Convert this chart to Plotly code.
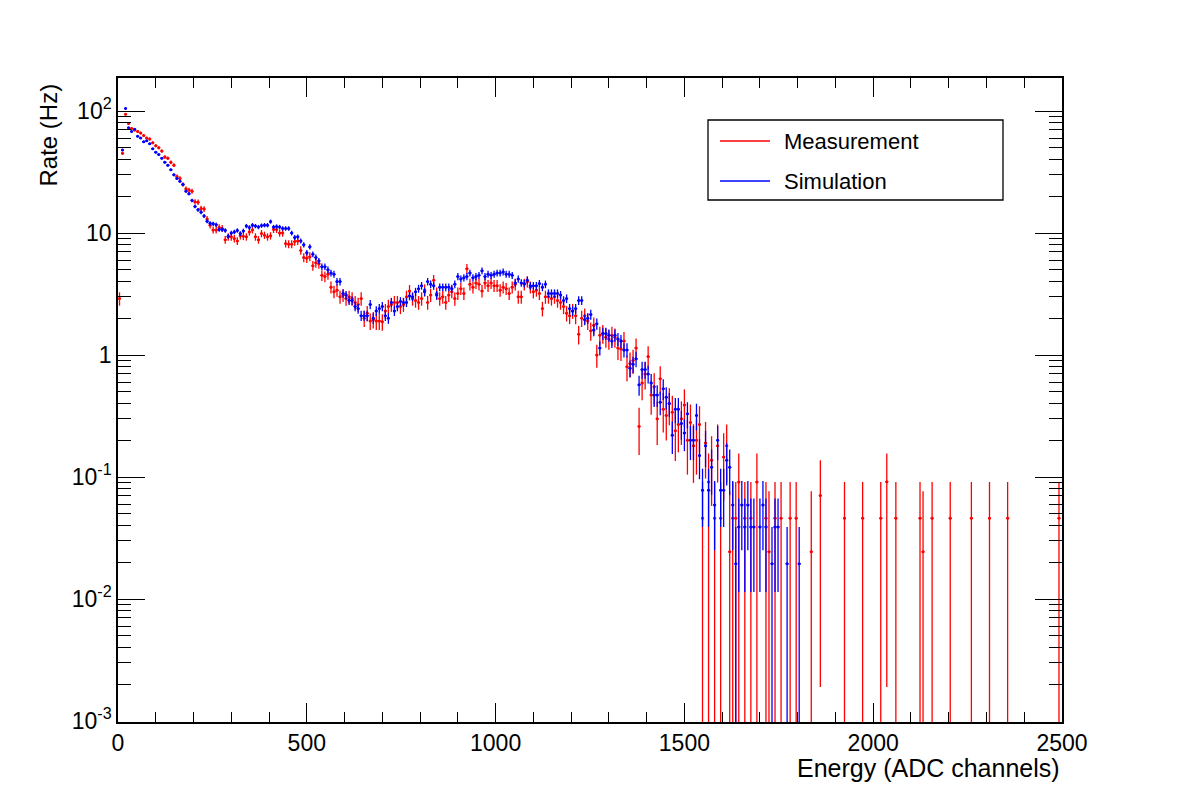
import math
import plotly.graph_objects as go

# ---------------- data ----------------
BIN_WIDTH = 8          # ADC channels per bin
FIRST_CENTER = 4       # centre of first bin

# Measurement rates (Hz) for consecutive bins starting at channel 4
meas_main = [
    2.9, 45, 94, 79, 72, 70, 68, 66, 63, 60, 59, 55, 52, 50, 47, 42, 41, 38, 36, 29,
    28, 25, 23, 22.5, 22, 18, 17.9, 15.9, 15.7, 13, 11.6, 10.6, 10.6, 11.1, 10.9, 8.8, 9.3, 9.3, 9.0, 8.6,
    9.5, 9.4, 9.3, 10.2, 10.6, 9.3, 8.8, 9.9, 9.6, 9.3, 9.5, 10.7, 10.7, 10.0, 10.0, 8.2, 8.1, 8.1, 8.5, 8.6,
    7.2, 6.3, 6.2, 6.4, 5.4, 5.7, 5.6, 4.5, 4.4, 4.6, 3.6, 3.3, 3.4, 3.0, 3.1, 2.9, 3.0, 2.9, 2.7, 2.6,
    2.9, 2.0, 2.2, 1.9, 1.95, 1.9, 1.9, 1.87, 2.3, 2.5, 2.6, 2.7, 2.7, 2.5, 2.6, 3.0, 3.35, 2.9, 2.8, 2.7,
    2.9, 3.4, 2.7, 3.1, 4.1, 3.2, 2.9, 3.0, 2.7, 3.1, 3.3, 2.9, 3.2, 3.5, 3.2, 5.1, 3.8, 3.6, 3.9, 3.8,
    3.35, 3.9, 3.7, 3.9, 3.7, 3.7, 3.4, 3.6, 3.5, 3.2, 3.6, 3.8, 3.0, 3.0, 3.8, 4.0, 3.6, 3.3, 3.4, 3.2,
    2.4, 3.0, 3.0, 2.9, 3.0, 2.8, 2.7, 2.5, 2.2, 2.1, 2.3, 2.1, 1.48, 2.0, 2.1, 1.9, 1.58, 1.75, 1.0, 1.45,
    1.5, 1.4, 1.35, 1.45, 1.4, 1.14, 1.12, 1.3, 0.8, 0.85, 0.9, 1.14, 0.26, 0.59, 0.7, 0.97, 0.47, 0.55, 0.3, 0.64,
    0.36, 0.32, 0.4, 0.34, 0.24, 0.27, 0.3, 0.39, 0.2, 0.28, 0.18, 0.2, 0.27,
]

# Simulation rates (Hz) for the same bins (first bin empty)
sim_main = [
    None, 48, 105, 73, 68, 71, 62, 60, 56, 57, 54, 49, 46, 44, 41, 38, 36, 33, 30, 28,
    26.5, 25, 22, 21, 18.5, 16.5, 15.5, 14.8, 13.8, 12.5, 12.0, 11.9, 11.7, 10.7, 10.7, 10.5, 9.4, 10.0, 10.2, 10.5,
    9.9, 10.4, 11.4, 11.1, 11.6, 11.4, 11.2, 11.5, 11.6, 11.6, 12.4, 11.2, 11.3, 11.2, 10.9, 10.9, 10.9, 10.0, 9.2, 9.3,
    8.6, 8.0, 6.9, 7.7, 6.7, 6.3, 5.9, 5.3, 5.3, 5.0, 4.7, 4.6, 4.0, 4.0, 3.2, 3.1, 2.8, 2.8, 2.5, 2.4,
    2.1, 2.1, 2.1, 2.6, 2.0, 2.3, 2.4, 2.5, 2.1, 2.0, 2.7, 2.3, 2.5, 2.75, 2.7, 2.7, 3.05, 3.0, 3.3, 3.5,
    3.7, 3.3, 4.0, 3.8, 3.7, 3.1, 3.6, 3.6, 3.6, 3.6, 3.5, 3.8, 4.4, 4.2, 4.3, 4.4, 4.7, 4.3, 4.4, 4.5,
    4.9, 4.4, 4.6, 4.5, 4.6, 4.7, 4.7, 4.8, 4.6, 4.6, 4.5, 3.9, 4.2, 3.9, 3.85, 4.1, 3.7, 3.7, 3.7, 3.85,
    3.6, 3.8, 3.2, 3.2, 3.2, 3.2, 3.1, 2.8, 2.9, 2.4, 2.3, 2.4, 2.8, 2.8, 1.95, 2.0, 2.15, 1.6, 1.8, 1.14,
    1.5, 1.5, 1.45, 1.3, 1.45, 1.35, 1.3, 1.1, 1.1, 0.78, 0.84, 0.93, 0.57, 0.76, 0.76, 0.7, 0.59, 0.47, 0.47, 0.41,
    0.53, 0.45, 0.4, 0.22, 0.36, 0.36, 0.275, 0.23, 0.33, 0.2, 0.2, 0.32, 0.15,
]

# Sparse high-energy tail (bin centres in ADC channels)
meas_tail_x = [1548, 1556, 1564, 1572, 1580, 1588, 1596, 1604, 1612, 1620, 1628, 1636, 1644, 1660,
               1676, 1692, 1716, 1724, 1740, 1756, 1780, 1796, 1836, 1860, 1924, 1972, 2020, 2036,
               2060, 2124, 2132, 2156, 2204, 2260, 2308, 2356, 2492]
meas_tail_y = [0.046, 0.19, 0.091, 0.137, 0.046, 0.18, 0.046, 0.146, 0.18, 0.0244, 0.046, 0.046, 0.091, 0.046,
               0.046, 0.091, 0.046, 0.0244, 0.046, 0.046, 0.046, 0.046, 0.0244, 0.0705, 0.046, 0.046, 0.046, 0.0915,
               0.046, 0.046, 0.0244, 0.046, 0.046, 0.046, 0.046, 0.046, 0.046]
meas_tail_err_up = [0.045, 0.093, 0.065, 0.079, 0.045, 0.09, 0.045, 0.082, 0.09, 0.052, 0.045, 0.045, 0.065, 0.045,
                    0.045, 0.065, 0.045, 0.052, 0.045, 0.045, 0.045, 0.045, 0.052, 0.067, 0.045, 0.045, 0.045, 0.0645,
                    0.045, 0.045, 0.052, 0.045, 0.045, 0.045, 0.045, 0.045, 0.045]
meas_tail_err_dn = [0.046, 0.093, 0.091, 0.079, 0.046, 0.09, 0.046, 0.082, 0.09, 0.0244, 0.046, 0.046, 0.091, 0.046,
                    0.046, 0.091, 0.046, 0.0244, 0.046, 0.046, 0.046, 0.046, 0.0244, 0.0686, 0.046, 0.046, 0.046, 0.0896,
                    0.046, 0.046, 0.0244, 0.046, 0.046, 0.046, 0.046, 0.046, 0.046]

sim_tail_x = [1548, 1556, 1564, 1572, 1580, 1588, 1596, 1604, 1612, 1620, 1628, 1636, 1644, 1652, 1660,
              1668, 1676, 1684, 1700, 1708, 1716, 1732, 1740, 1748, 1772, 1804]
sim_tail_y = [0.078, 0.18, 0.078, 0.12, 0.059, 0.2, 0.078, 0.078, 0.137, 0.12, 0.059, 0.0195, 0.039, 0.059, 0.039,
              0.059, 0.039, 0.039, 0.039, 0.059, 0.039, 0.0195, 0.039, 0.039, 0.0195, 0.0195]

MEAS_RATE_PER_COUNT = 0.0455   # Hz per recorded event (measurement)
SIM_RATE_PER_COUNT = 0.0195    # Hz per simulated event

# ---------------- assemble ----------------
meas_main_x = [FIRST_CENTER + BIN_WIDTH * i for i in range(len(meas_main))]
sim_main_x = [FIRST_CENTER + BIN_WIDTH * i for i in range(len(sim_main))]

def poisson_err(vals, unit):
    return [None if v is None else math.sqrt(v * unit) for v in vals]

meas_x = meas_main_x + meas_tail_x
meas_y = meas_main + meas_tail_y
meas_up = poisson_err(meas_main, MEAS_RATE_PER_COUNT) + meas_tail_err_up
meas_dn = poisson_err(meas_main, MEAS_RATE_PER_COUNT) + meas_tail_err_dn

sim_x = sim_main_x + sim_tail_x
sim_y = sim_main + sim_tail_y
sim_err = poisson_err(sim_y, SIM_RATE_PER_COUNT)

RED = "#ff0000"
BLUE = "#0000ff"
FONT = "Liberation Sans, Arial, Helvetica, sans-serif"

fig = go.Figure()
fig.add_trace(go.Scatter(
    x=meas_x, y=meas_y, mode="markers", name="Measurement",
    marker=dict(color=RED, size=3),
    error_y=dict(type="data", symmetric=False, array=meas_up, arrayminus=meas_dn,
                 color=RED, thickness=1.3, width=0),
    error_x=dict(type="constant", value=BIN_WIDTH / 2, color=RED, thickness=1.3, width=0),
    showlegend=False,
))
fig.add_trace(go.Scatter(
    x=sim_x, y=sim_y, mode="markers", name="Simulation",
    marker=dict(color=BLUE, size=3),
    error_y=dict(type="data", array=sim_err, color=BLUE, thickness=1.3, width=0),
    error_x=dict(type="constant", value=BIN_WIDTH / 2, color=BLUE, thickness=1.3, width=0),
    showlegend=False,
))

y_tick_vals = [0.001, 0.01, 0.1, 1, 10, 100]
y_tick_text = ["10<sup>-3</sup>", "10<sup>-2</sup>", "10<sup>-1</sup>", "1", "10", "10<sup>2</sup>"]

fig.update_xaxes(
    range=[0, 2500], showline=True, linecolor="black", linewidth=1.5, mirror="ticks",
    ticks="inside", ticklen=19, tickwidth=1.3, tickcolor="black", dtick=500, tick0=0,
    showgrid=False, zeroline=False,
    tickfont=dict(family=FONT, size=23, color="black"),
    minor=dict(ticks="inside", ticklen=10, dtick=100, tickcolor="black", tickwidth=1.3, showgrid=False),
)
fig.update_yaxes(
    type="log", range=[-3.008, 2.2705], showline=True, linecolor="black", linewidth=1.5, mirror="ticks",
    ticks="inside", ticklen=27, tickwidth=1.3, tickcolor="black",
    tickvals=y_tick_vals, ticktext=y_tick_text, showgrid=False, zeroline=False,
    tickfont=dict(family=FONT, size=23, color="black"),
    minor=dict(ticks="inside", ticklen=13, dtick="D1", tickcolor="black", tickwidth=1.3, showgrid=False),
)

def px_to_paper_x(px):
    return (px - 118) / 944.0

def px_to_paper_y(py):
    return (722 - py) / 644.0

shapes = [
    dict(type="rect", xref="paper", yref="paper",
         x0=px_to_paper_x(708), x1=px_to_paper_x(1003), y0=px_to_paper_y(200), y1=px_to_paper_y(120),
         line=dict(color="black", width=1.3), fillcolor="white", layer="above"),
    dict(type="line", xref="paper", yref="paper",
         x0=px_to_paper_x(720), x1=px_to_paper_x(770), y0=px_to_paper_y(141), y1=px_to_paper_y(141),
         line=dict(color=RED, width=1.3), layer="above"),
    dict(type="line", xref="paper", yref="paper",
         x0=px_to_paper_x(720), x1=px_to_paper_x(770), y0=px_to_paper_y(181), y1=px_to_paper_y(181),
         line=dict(color=BLUE, width=1.3), layer="above"),
]

annotations = [
    dict(text="Measurement", xref="paper", yref="paper", x=px_to_paper_x(782), y=px_to_paper_y(141),
         xanchor="left", yanchor="middle", showarrow=False, font=dict(family=FONT, size=22, color="black")),
    dict(text="Simulation", xref="paper", yref="paper", x=px_to_paper_x(782), y=px_to_paper_y(181),
         xanchor="left", yanchor="middle", showarrow=False, font=dict(family=FONT, size=22, color="black")),
    dict(text="Energy (ADC channels)", xref="paper", yref="paper", x=1.0, y=px_to_paper_y(768),
         xanchor="right", yanchor="middle", showarrow=False, font=dict(family=FONT, size=25, color="black")),
    dict(text="Rate (Hz)", xref="paper", yref="paper", x=px_to_paper_x(48), y=px_to_paper_y(82),
         xanchor="center", yanchor="top", textangle=-90, showarrow=False,
         font=dict(family=FONT, size=24, color="black")),
]

fig.update_layout(
    width=1182, height=805,
    margin=dict(l=118, r=120, t=78, b=83),
    paper_bgcolor="white", plot_bgcolor="white",
    shapes=shapes, annotations=annotations,
    font=dict(family=FONT, color="black"),
)

fig.write_html("out.html")
